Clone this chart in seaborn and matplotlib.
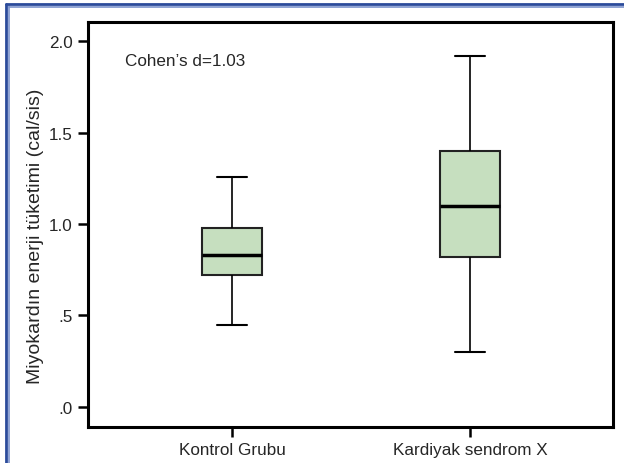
import numpy as np
import pandas as pd
import matplotlib
matplotlib.use("Agg")
import matplotlib.pyplot as plt
from matplotlib.lines import Line2D
import seaborn as sns

# group names and box summary values (min, Q1, median, Q3, max)
groups = ["Kontrol Grubu", "Kardiyak sendrom X"]
kontrol = [0.45, 0.72, 0.83, 0.98, 1.26]
kardiyak = [0.30, 0.82, 1.10, 1.40, 1.92]
yticks = [0.0, 0.5, 1.0, 1.5, 2.0]
ytick_labels = [".0", ".5", "1.0", "1.5", "2.0"]

df = pd.DataFrame({
    "grup": [groups[0]] * len(kontrol) + [groups[1]] * len(kardiyak),
    "deger": kontrol + kardiyak,
})

sns.set_style("white")
plt.rcParams["font.family"] = ["Liberation Sans", "DejaVu Sans"]

fig = plt.figure(figsize=(6.24, 4.64), dpi=100)
ax = fig.add_axes([0.141, 0.078, 0.841, 0.872])

sns.boxplot(data=df, x="grup", y="deger", order=groups, ax=ax,
            whis=(0, 100), width=0.25, color="#c6dfbf", saturation=1,
            linewidth=1.5, linecolor="#222222",
            medianprops=dict(color="black", linewidth=2.5),
            whiskerprops=dict(color="black", linewidth=1.2),
            capprops=dict(color="black", linewidth=1.5))

ax.set_xlim(-0.605, 1.6)
ax.set_ylim(-0.109, 2.104)
ax.set_yticks(yticks)
ax.set_yticklabels(ytick_labels)
ax.set_xlabel("")
ax.set_ylabel("Miyokardın enerji tüketimi (cal/sis)", fontsize=14)
ax.yaxis.set_label_coords(-0.084, 0.474)
ax.tick_params(axis="both", direction="out", length=7.5, width=1.8, pad=3.5,
               labelsize=12.3, color="black", left=True, bottom=True)
for sp in ax.spines.values():
    sp.set_linewidth(2.2)
    sp.set_color("black")

ax.text(0.070, 0.923, "Cohen’s d=1.03", transform=ax.transAxes,
        fontsize=12.3, va="top", ha="left")

# blue double border on left and top
fig.add_artist(Line2D([0.0096, 0.0096], [0, 0.99], transform=fig.transFigure,
                      color="#2b4b9b", linewidth=2))
fig.add_artist(Line2D([0.0152, 0.0152], [0, 0.985], transform=fig.transFigure,
                      color="#7d93cc", linewidth=1.2))
fig.add_artist(Line2D([0.0096, 1], [0.99, 0.99], transform=fig.transFigure,
                      color="#2b4b9b", linewidth=2))
fig.add_artist(Line2D([0.0152, 1], [0.983, 0.983], transform=fig.transFigure,
                      color="#7d93cc", linewidth=1.2))

fig.savefig("out.png", dpi=100)
